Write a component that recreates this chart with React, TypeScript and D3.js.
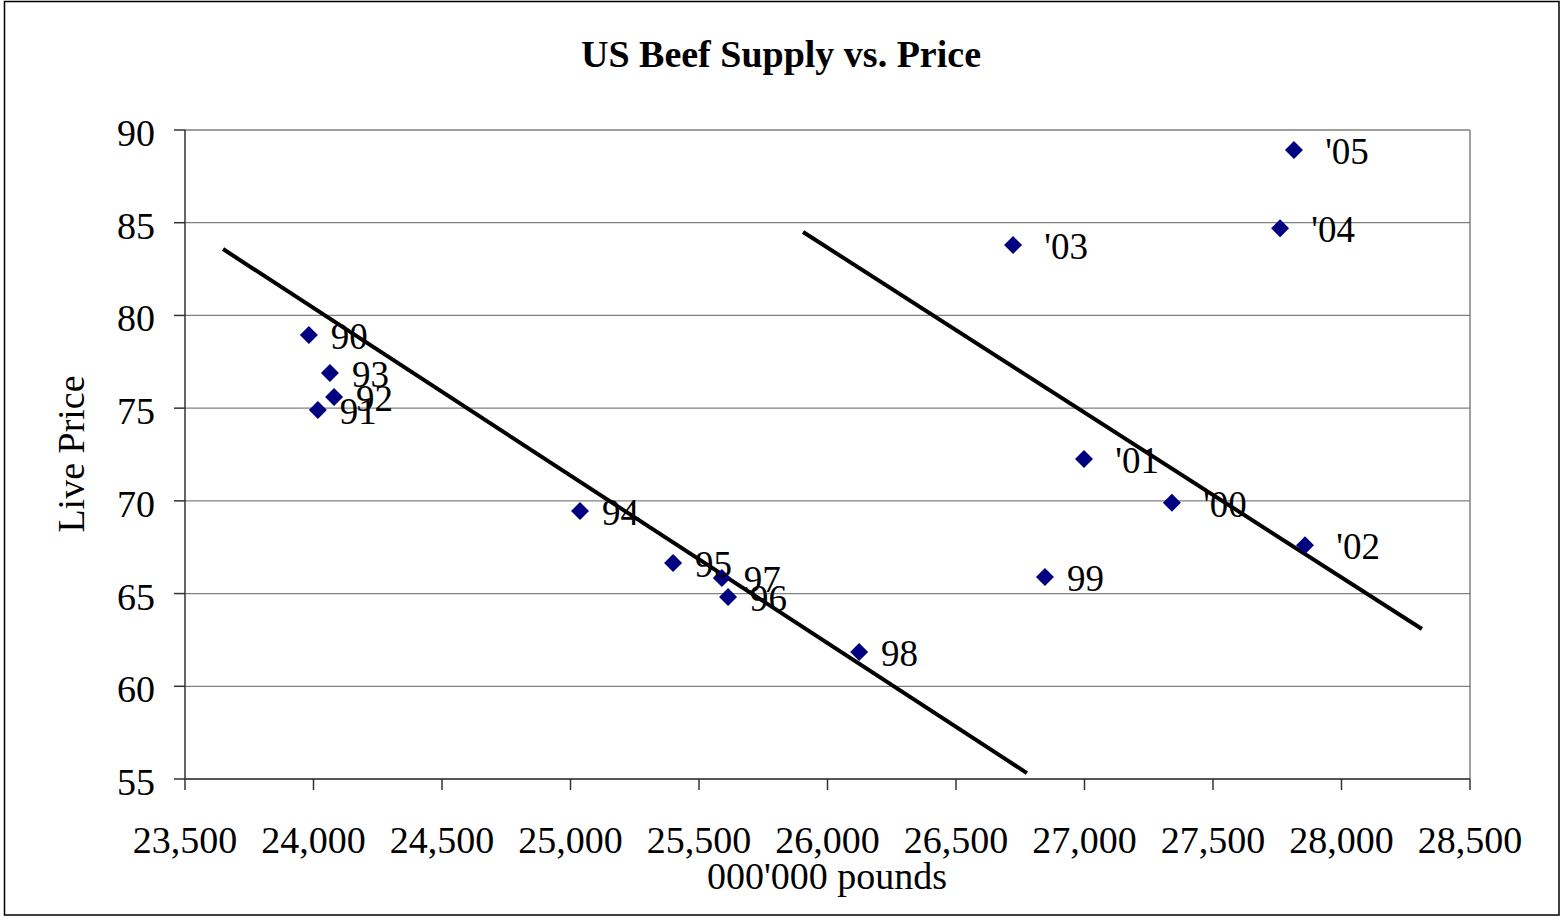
import { useEffect } from "react";
import * as d3 from "d3";

// points
const years = ["90", "91", "92", "93", "94", "95", "96", "97", "98", "99", " '00", " '01", " '02", " '03", " '04", " '05"];
const supply = [23982, 24017, 24080, 24064, 25037, 25399, 25613, 25589, 26123, 26846, 27340, 26998, 27858, 26722, 27761, 27815];
const price = [78.94, 74.9, 75.6, 76.9, 69.45, 66.65, 64.82, 65.84, 61.85, 65.9, 69.9, 72.26, 67.6, 83.8, 84.7, 88.92];

// hand drawn trend lines
const trendOneX = [23648, 26776];
const trendOneY = [83.58, 55.32];
const trendTwoX = [25905, 28313];
const trendTwoY = [84.5, 63.09];

const xTicks = [23500, 24000, 24500, 25000, 25500, 26000, 26500, 27000, 27500, 28000, 28500];
const yTicks = [55, 60, 65, 70, 75, 80, 85, 90];

const FONT = "'Liberation Serif', 'Times New Roman', serif";

export default function App() {
  useEffect(() => {
    document.body.style.margin = "0";
  }, []);

  const width = 1562;
  const height = 917;
  const plot = { left: 185, right: 1470, top: 130, bottom: 779 };

  const xScale = d3.scaleLinear().domain([23500, 28500]).range([plot.left, plot.right]);
  const yScale = d3.scaleLinear().domain([55, 90]).range([plot.bottom, plot.top]);
  const fmt = d3.format(",");

  const line = d3
    .line<[number, number]>()
    .x((d) => xScale(d[0]))
    .y((d) => yScale(d[1]));

  const trendOne = line(d3.zip(trendOneX, trendOneY) as [number, number][]);
  const trendTwo = line(d3.zip(trendTwoX, trendTwoY) as [number, number][]);

  const diamond = "M0,-9L9,0L0,9L-9,0Z";

  return (
    <svg width={width} height={height} style={{ display: "block" }} fontFamily={FONT}>
      <rect x={0} y={0} width={width} height={height} fill="#fff" />
      <rect x={4.5} y={1.5} width={1554.5} height={913.5} fill="none" stroke="#000" strokeWidth={1.5} />

      <text x={781} y={67} textAnchor="middle" fontSize={38} fontWeight="bold">
        US Beef Supply vs. Price
      </text>

      {/* grid */}
      {yTicks.map((t) => (
        <line
          key={"g" + t}
          x1={plot.left}
          x2={plot.right}
          y1={yScale(t)}
          y2={yScale(t)}
          stroke="#808080"
          strokeWidth={t === 90 ? 1.5 : 1.2}
        />
      ))}
      <line x1={plot.right} x2={plot.right} y1={plot.top} y2={plot.bottom} stroke="#808080" strokeWidth={1.5} />

      {/* axes */}
      <line x1={plot.left} x2={plot.left} y1={plot.top} y2={plot.bottom} stroke="#333" strokeWidth={1.5} />
      <line x1={plot.left} x2={plot.right} y1={plot.bottom} y2={plot.bottom} stroke="#333" strokeWidth={1.5} />
      {yTicks.map((t) => (
        <g key={"y" + t}>
          <line x1={plot.left - 11} x2={plot.left} y1={yScale(t)} y2={yScale(t)} stroke="#333" strokeWidth={1.5} />
          <text x={155} y={yScale(t) + 16} textAnchor="end" fontSize={38}>
            {t}
          </text>
        </g>
      ))}
      {xTicks.map((t) => (
        <g key={"x" + t}>
          <line x1={xScale(t)} x2={xScale(t)} y1={plot.bottom} y2={plot.bottom + 11} stroke="#333" strokeWidth={1.5} />
          <text x={xScale(t)} y={853} textAnchor="middle" fontSize={38}>
            {fmt(t)}
          </text>
        </g>
      ))}

      <text x={827} y={889} textAnchor="middle" fontSize={38}>
        000'000 pounds
      </text>
      <text transform="translate(84,454) rotate(-90)" textAnchor="middle" fontSize={38}>
        Live Price
      </text>

      {/* trend lines */}
      <path d={trendOne ?? ""} fill="none" stroke="#000" strokeWidth={4} />
      <path d={trendTwo ?? ""} fill="none" stroke="#000" strokeWidth={4} />

      {/* points */}
      {supply.map((s, i) => (
        <g key={years[i]} transform={`translate(${xScale(s)},${yScale(price[i])})`}>
          <path d={diamond} fill="#000080" />
        </g>
      ))}
      {supply.map((s, i) => (
        <text
          key={"l" + years[i]}
          x={xScale(s) + 22}
          y={yScale(price[i]) + 14}
          fontSize={37}
          style={{ whiteSpace: "pre" }}
        >
          {years[i]}
        </text>
      ))}
    </svg>
  );
}
